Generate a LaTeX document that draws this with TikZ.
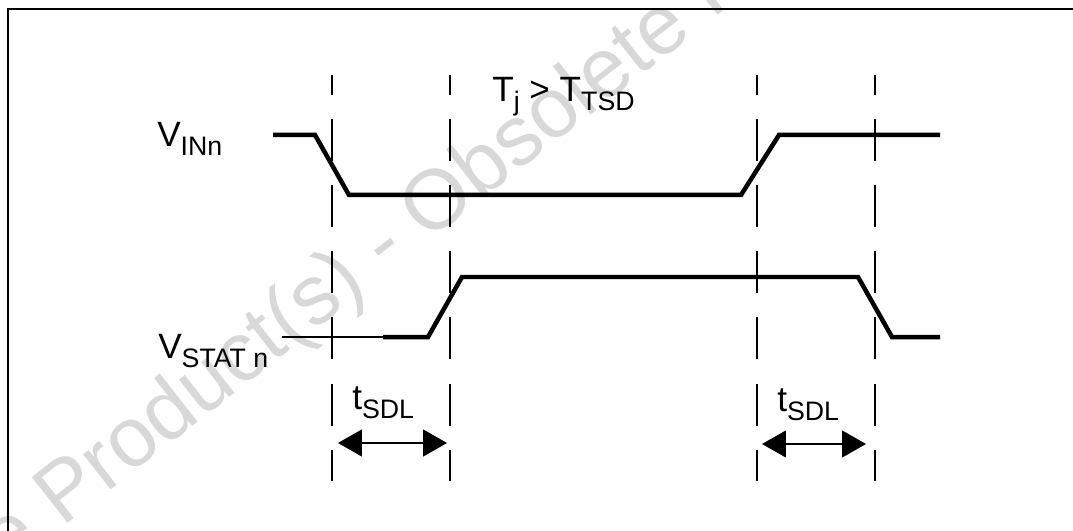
\documentclass[tikz,border=0pt]{standalone}
\usepackage{fontspec}
\setmainfont{Liberation Sans}
\usetikzlibrary{arrows.meta,positioning}
\definecolor{Mark}{HTML}{D8D8D8}
\newcommand{\lowsub}[1]{\raisebox{-6.4pt}{\fontsize{19}{19}\selectfont #1}}

\begin{document}
\begin{tikzpicture}[x=0.025cm,y=-0.025cm,
    wave/.style={line width=3.2pt,line join=miter},
    guide/.style={line width=1.1pt,dash pattern=on 29.9pt off 17.1pt,dash phase=15.6pt},
    lbl/.style={inner sep=0pt,anchor=base west,font=\fontsize{25}{25}\selectfont},
    span/.style={{Triangle[length=17pt,width=19pt]}-{Triangle[length=17pt,width=19pt]},line width=1.4pt}]
  \useasboundingbox (0,0) rectangle (1073,531);
  % watermark behind everything
  \begin{scope}
    \clip (0,0) rectangle (1073,531);
    \node[text=Mark,rotate=38,font=\fontsize{60}{60}\selectfont] (mark) at (385,248)
      {Obsolete Product(s) - Obsolete Product(s)};
  \end{scope}
  % frame
  \draw[line width=1.8pt] (8,545) -- (8,9) -- (1085,9);
  % signals
  \draw[wave] (273,135) -- (315,135) -- (349,195) -- (741,195) -- (779,135) -- (940,135);
  \draw[line width=1.4pt] (282,337) -- (383,337);
  \draw[wave] (383,337) -- (428,337) -- (462,277) -- (858,277) -- (892,337) -- (940,337);
  % timing guides
  \foreach \x/\n in {332/a,450/b,757/c,875/d}{
    \coordinate (top\n) at (\x,75);
    \coordinate (bot\n) at (\x,481);
    \draw[guide] (top\n) -- (bot\n);
  }
  \node[lbl] (vin) at (157,147) {V\lowsub{INn}};
  \node[lbl] (vstat) at (158,358) {V\lowsub{STAT n}};
  \node[lbl] (temp) at (492,102) {T\lowsub{j} > T\lowsub{TSD}};
  \node[lbl] (dly1) at (352,409) {t\lowsub{SDL}};
  \node[lbl] (dly2) at (777,411) {t\lowsub{SDL}};
  % delay arrows
  \coordinate (s1) at (338,443);
  \coordinate (e1) at (447,443);
  \coordinate (s2) at (762,444);
  \coordinate (e2) at (866,444);
  \draw[span] (s1) -- (e1);
  \draw[span] (s2) -- (e2);
\end{tikzpicture}
\end{document}
